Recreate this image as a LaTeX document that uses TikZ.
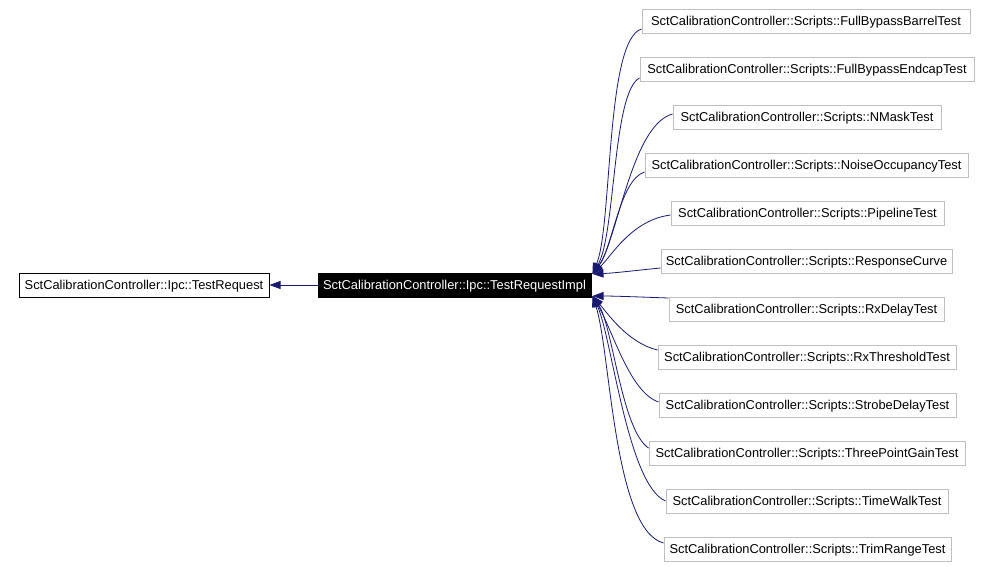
\documentclass[tikz,border=0pt]{standalone}
\usepackage{fontspec}
\setmainfont{Liberation Sans}
\usepackage{tikz}
\usetikzlibrary{arrows.meta,calc,positioning}
\definecolor{edgeblue}{HTML}{191970}
\definecolor{boxgray}{HTML}{BFBFBF}

\begin{document}
\begin{tikzpicture}[x=1pt,y=-1pt,
  cls/.style={draw=black,line width=1pt,inner sep=0pt,minimum height=24pt,
    text height=9.2pt,text depth=0pt,font=\fontsize{12.85}{15}\selectfont},
  derived/.style={cls,draw=boxgray},
  current/.style={cls,fill=black,text=white},
  inh/.style={draw=edgeblue,line width=0.8pt,
    -{Triangle[length=11pt,width=8pt]},edgeblue}]
\useasboundingbox (0,0) rectangle (992,566);
\node[cls,minimum width=250pt] (req) at (144,285) {SctCalibrationController::Ipc::TestRequest};
\node[current,minimum width=273pt] (impl) at (454.5,285) {SctCalibrationController::Ipc::TestRequestImpl};
\coordinate (T) at ($(impl.east)+(1,-11)$);
\coordinate (B) at ($(impl.east)+(1,11)$);
% derived script classes
\node[derived,minimum width=328pt] (fbb) at (806,21) {SctCalibrationController::Scripts::FullBypassBarrelTest};
\node[derived,minimum width=334pt] (fbe) at (807,69) {SctCalibrationController::Scripts::FullBypassEndcapTest};
\node[derived,minimum width=268pt] (nm) at (807,117) {SctCalibrationController::Scripts::NMaskTest};
\node[derived,minimum width=323pt] (no) at (806.5,165) {SctCalibrationController::Scripts::NoiseOccupancyTest};
\node[derived,minimum width=273pt] (pl) at (807.5,213) {SctCalibrationController::Scripts::PipelineTest};
\node[derived,minimum width=291pt] (rc) at (806.5,261) {SctCalibrationController::Scripts::ResponseCurve};
\node[derived,minimum width=275pt] (rxd) at (806.5,309) {SctCalibrationController::Scripts::RxDelayTest};
\node[derived,minimum width=298pt] (rxt) at (807,357) {SctCalibrationController::Scripts::RxThresholdTest};
\node[derived,minimum width=297pt] (sd) at (807.5,405) {SctCalibrationController::Scripts::StrobeDelayTest};
\node[derived,minimum width=316pt] (tpg) at (807,453) {SctCalibrationController::Scripts::ThreePointGainTest};
\node[derived,minimum width=282pt] (tw) at (807,501) {SctCalibrationController::Scripts::TimeWalkTest};
\node[derived,minimum width=287pt] (tr) at (807.5,549) {SctCalibrationController::Scripts::TrimRangeTest};
% inheritance
\draw[inh] (impl) -- (req);
\draw[inh] ($(fbb.west)+(0,8)$) .. controls +(-36,11) and +(20,-49) .. (T);
\draw[inh] ($(fbe.west)+(0,9)$) .. controls +(-27,14) and +(23,-39) .. (T);
\draw[inh] ($(nm.west)+(0,-3)$) .. controls +(-41,11) and +(25,-34) .. (T);
\draw[inh] ($(no.west)+(0,7)$) .. controls +(-25,8) and +(20,-26) .. (T);
\draw[inh] ($(pl.west)+(0,2)$) .. controls +(-39,5) and +(19,-18) .. (T);
\draw[inh] ($(rc.west)+(0,7)$) .. controls +(-21,2) and +(23,-1) .. (T);
\draw[inh] ($(rxd.west)+(0,-11)$) .. controls +(-29,-1) and +(23,0) .. (B);
\draw[inh] ($(rxt.west)+(0,-7)$) .. controls +(-30,-7) and +(14,16) .. (B);
\draw[inh] ($(sd.west)+(0,-3)$) .. controls +(-29,-10) and +(20,34) .. (B);
\draw[inh] ($(tpg.west)+(0,-5)$) .. controls +(-27,-18) and +(20,29) .. (B);
\draw[inh] (tw.west) .. controls +(-38,-16) and +(19,39) .. (B);
\draw[inh] ($(tr.west)+(0,-6)$) .. controls +(-50,-13) and +(18,54) .. (B);
\end{tikzpicture}
\end{document}
